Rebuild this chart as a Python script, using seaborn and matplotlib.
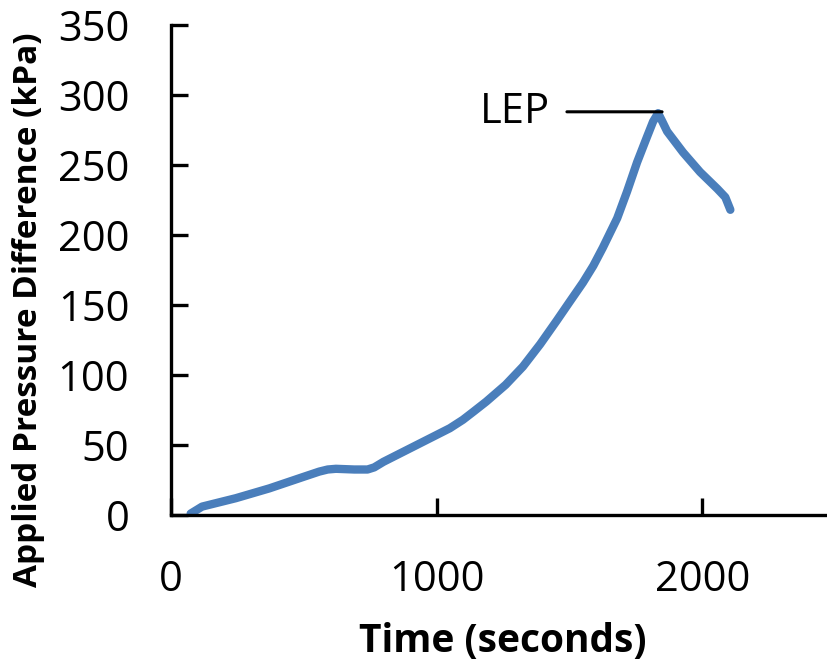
import matplotlib
matplotlib.use("Agg")
import matplotlib.pyplot as plt
import seaborn as sns
import pandas as pd

# --- data ---
time_s = [74, 117, 244, 370, 495, 558, 590, 621, 690, 740, 765, 800, 873,
          998, 1050, 1099, 1140, 1187, 1260, 1325, 1390, 1453, 1500, 1551,
          1590, 1626, 1680, 1717, 1755, 1792, 1815, 1834, 1850, 1868, 1928,
          1992, 2057, 2087, 2106]
pressure_kpa = [1, 6, 12, 19, 27, 31, 32.5, 33, 32.5, 32.5, 34, 38, 45,
                57, 62, 68, 74, 81, 93, 106, 122, 139, 152, 166,
                178, 191, 212, 231, 252, 270, 281, 287, 281, 274, 259,
                245, 233, 227, 218]
x_ticks = [0, 1000, 2000]
y_ticks = [0, 50, 100, 150, 200, 250, 300, 350]
lep_label = "LEP"
lep_time = 1849
lep_value = 288
lep_label_time = 1426

df = pd.DataFrame({"Time": time_s, "Pressure": pressure_kpa})

sns.set_theme(style="white")
plt.rcParams["font.family"] = ["Open Sans", "DejaVu Sans"]
plt.rcParams["text.color"] = "black"
plt.rcParams["axes.labelcolor"] = "black"

W, H = 828, 666
fig = plt.figure(figsize=(W / 100, H / 100), dpi=100)
left_px, right_px, top_px, bottom_px = 171, 835, 25, 515
ax = fig.add_axes([left_px / W, (H - bottom_px) / H,
                   (right_px - left_px) / W, (bottom_px - top_px) / H])

sns.lineplot(data=df, x="Time", y="Pressure", ax=ax, color="#4A7EBB",
             linewidth=6.0, sort=False, solid_capstyle="round",
             solid_joinstyle="round")

ax.set_xlim(0, 2500)
ax.set_ylim(0, 350)
ax.set_xticks(x_ticks)
ax.set_yticks(y_ticks)

for side in ["top", "right"]:
    ax.spines[side].set_visible(False)
for side in ["left", "bottom"]:
    ax.spines[side].set_linewidth(2.4)
    ax.spines[side].set_color("black")
ax.spines["bottom"].set_clip_on(False)

ax.tick_params(axis="both", which="major", bottom=True, left=True,
               direction="in", length=12, width=2.4,
               color="black", labelsize=30, labelcolor="black")
ax.tick_params(axis="y", pad=30)
ax.tick_params(axis="x", pad=32)

ax.set_xlabel("Time (seconds)", fontsize=28, fontweight="bold",
              labelpad=15, color="black")
ax.set_ylabel("Applied Pressure Difference (kPa)", fontsize=24,
              fontweight="bold", color="black")
ax.yaxis.set_label_coords(-0.19, 0.418)

ax.annotate(lep_label, xy=(lep_time, lep_value),
            xytext=(lep_label_time, lep_value), textcoords="data",
            ha="right", va="center", fontsize=30, color="black",
            arrowprops=dict(arrowstyle="-", color="black", lw=2.2,
                            shrinkA=10, shrinkB=0))

fig.savefig("out.png", dpi=100)
